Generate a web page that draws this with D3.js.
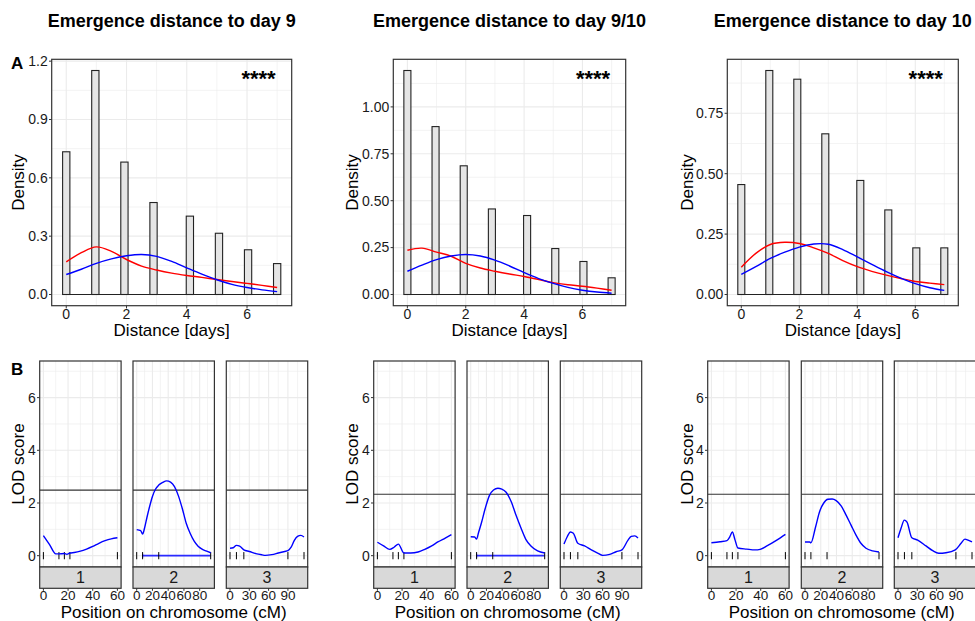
<!DOCTYPE html>
<html>
<head>
<meta charset="utf-8">
<script src="https://cdn.jsdelivr.net/npm/d3@7"></script>
<style>
  body { margin: 0; background: #fff; }
  svg { display: block; font-family: "Liberation Sans", Arial, sans-serif; }
</style>
</head>
<body>
<svg id="fig" width="975" height="621"></svg>
<script>
// ---------------- data: emergence distance histograms ----------------
const titles = ["Emergence distance to day 9", "Emergence distance to day 9/10", "Emergence distance to day 10"];
const days = [0, 1, 2, 3, 4, 5, 6, 7];
const densityDay9   = [0.734, 1.152, 0.681, 0.473, 0.403, 0.315, 0.230, 0.159];
const densityDay910 = [1.194, 0.895, 0.686, 0.456, 0.421, 0.245, 0.176, 0.089];
const densityDay10  = [0.455, 0.927, 0.891, 0.665, 0.472, 0.350, 0.193, 0.193];

// smoothed density curves sampled every half day
const curveX = [0, 0.5, 1, 1.5, 2, 2.5, 3, 3.5, 4, 4.5, 5, 5.5, 6, 6.5, 7];
const redDay9    = [0.168, 0.215, 0.245, 0.222, 0.180, 0.146, 0.126, 0.110, 0.098, 0.088, 0.077, 0.067, 0.057, 0.047, 0.036];
const blueDay9   = [0.103, 0.130, 0.160, 0.183, 0.199, 0.206, 0.196, 0.170, 0.137, 0.105, 0.076, 0.052, 0.036, 0.024, 0.015];
const redDay910  = [0.236, 0.247, 0.226, 0.204, 0.166, 0.141, 0.124, 0.109, 0.096, 0.080, 0.063, 0.052, 0.044, 0.034, 0.023];
const blueDay910 = [0.124, 0.157, 0.186, 0.205, 0.213, 0.205, 0.183, 0.152, 0.117, 0.085, 0.059, 0.038, 0.023, 0.013, 0.007];
const redDay10   = [0.113, 0.170, 0.207, 0.216, 0.211, 0.193, 0.170, 0.140, 0.115, 0.096, 0.080, 0.066, 0.054, 0.047, 0.041];
const blueDay10  = [0.083, 0.115, 0.149, 0.175, 0.196, 0.209, 0.208, 0.186, 0.156, 0.125, 0.095, 0.068, 0.045, 0.028, 0.017];

const xTicksDays = [0, 2, 4, 6];
const yTicksDay9 = [0, 0.3, 0.6, 0.9, 1.2];
const yLabelsDay9 = ["0.0", "0.3", "0.6", "0.9", "1.2"];
const yTicksDay910 = [0, 0.25, 0.5, 0.75, 1.0];
const yLabelsDay910 = ["0.00", "0.25", "0.50", "0.75", "1.00"];
const yTicksDay10 = [0, 0.25, 0.5, 0.75];
const yLabelsDay10 = ["0.00", "0.25", "0.50", "0.75"];
const signifLabel = "****";

// ---------------- data: QTL scans ----------------
const chromosomes = ["1", "2", "3"];
const chrLength = [60, 94, 115];
const markersChr1 = [0, 12.6, 17, 21.5, 60];
const markersChr2 = [0, 7.5, 28, 94];
const markersChr3 = [0, 10, 21.5, 90, 115];
const chrTicks1 = [0, 20, 40, 60];
const chrTicks2 = [0, 20, 40, 60, 80];
const chrTicks3 = [0, 30, 60, 90];
const lodTicks = [0, 2, 4, 6];

const posD9c1 = [0, 5, 10, 12.6, 17, 19, 21.5, 25, 30, 35, 40, 45, 50, 55, 60];
const lodD9c1 = [0.76, 0.42, 0.07, 0.07, 0.08, 0.05, 0.10, 0.12, 0.17, 0.25, 0.35, 0.47, 0.57, 0.64, 0.68];
const posD9c2 = [0, 5, 7.5, 10, 13, 16, 20, 24, 28, 33, 38, 43, 48, 53, 58, 63, 68, 73, 78, 83, 88, 94];
const lodD9c2 = [0.99, 0.95, 0.82, 1.05, 1.45, 1.82, 2.25, 2.53, 2.68, 2.78, 2.84, 2.79, 2.62, 2.27, 1.78, 1.22, 0.84, 0.55, 0.36, 0.25, 0.18, 0.11];
const posD9c3 = [0, 5, 10, 15, 21.5, 30, 40, 50, 55, 65, 75, 85, 90, 95, 100, 105, 110, 115];
const lodD9c3 = [0.28, 0.30, 0.39, 0.36, 0.22, 0.16, 0.08, 0.03, 0.01, 0.04, 0.10, 0.16, 0.19, 0.32, 0.58, 0.73, 0.77, 0.71];

const posD910c1 = [0, 5, 10, 13.5, 17, 21.5, 27, 33, 38, 44, 49, 55, 60];
const lodD910c1 = [0.51, 0.37, 0.24, 0.32, 0.44, 0.10, 0.10, 0.14, 0.23, 0.37, 0.52, 0.67, 0.80];
const posD910c2 = [0, 5, 7.5, 10, 13.5, 18.5, 24, 29, 34.5, 39.5, 45, 51.5, 57.5, 64, 70, 76.5, 85, 94];
const lodD910c2 = [0.72, 0.71, 0.63, 0.88, 1.23, 1.80, 2.30, 2.49, 2.56, 2.53, 2.41, 2.05, 1.54, 1.04, 0.62, 0.37, 0.18, 0.10];
const posD910c3 = [0, 5, 10, 14.5, 21.5, 32, 42.5, 53, 60, 71, 81, 90, 99.5, 104.5, 110, 115];
const lodD910c3 = [0.44, 0.72, 0.90, 0.85, 0.47, 0.37, 0.22, 0.09, 0.01, 0.05, 0.15, 0.22, 0.59, 0.73, 0.75, 0.67];

const posD10c1 = [0, 7, 12.6, 15, 17, 19.2, 21.5, 28.6, 35.4, 39.5, 45, 53, 60];
const lodD10c1 = [0.49, 0.53, 0.57, 0.72, 0.90, 0.59, 0.29, 0.25, 0.22, 0.24, 0.37, 0.59, 0.81];
const posD10c2 = [0, 5.9, 7.5, 13.5, 18.5, 23.6, 29, 34.5, 39.6, 45.9, 52.2, 58.5, 64.8, 71, 77.5, 85.9, 94];
const lodD10c2 = [0.52, 0.52, 0.49, 1.10, 1.67, 1.99, 2.14, 2.15, 2.09, 1.89, 1.54, 1.16, 0.78, 0.47, 0.28, 0.18, 0.14];
const posD10c3 = [0, 4.7, 9.8, 14, 21.5, 30.6, 43.5, 53.9, 63.2, 74.6, 89, 98, 104, 109, 115];
const lodD10c3 = [0.68, 1.04, 1.35, 1.27, 0.68, 0.59, 0.37, 0.19, 0.09, 0.11, 0.22, 0.47, 0.63, 0.59, 0.52];

const lodThresholds = [2.49, 2.33, 2.33];
// support interval on chromosome 2 (start, end in cM); none for day 10
const chr2Interval = [[7.5, 94], [7.5, 94], null];

// ---------------- layout ----------------
const svg = d3.select("#fig");
const GRID = "#EBEBEB", FRAME = "#333333", TXT = "#1a1a1a";
const topY = [59.3, 305.7];
const topX = [[51.7, 291.7], [393.3, 625.7], [727.3, 958.3]];
const facetLeft = [[39.7, 133, 226.3], [373.7, 467, 560.3], [707.7, 801.3, 894.3]];
const facetW = 81.4;
const botY = [361, 567];
const stripH = 21.3;
const axisTitleX = [18.5, 351.7, 686.7];
const TICK_FS = 14;

const densities = [densityDay9, densityDay910, densityDay10];
const reds = [redDay9, redDay910, redDay10];
const blues = [blueDay9, blueDay910, blueDay10];
const yTicks = [yTicksDay9, yTicksDay910, yTicksDay10];
const yLabels = [yLabelsDay9, yLabelsDay910, yLabelsDay10];
const lodPos = [[posD9c1, posD9c2, posD9c3], [posD910c1, posD910c2, posD910c3], [posD10c1, posD10c2, posD10c3]];
const lodVal = [[lodD9c1, lodD9c2, lodD9c3], [lodD910c1, lodD910c2, lodD910c3], [lodD10c1, lodD10c2, lodD10c3]];
const markers = [markersChr1, markersChr2, markersChr3];
const chrTicks = [chrTicks1, chrTicks2, chrTicks3];

// histogram with 30 bins over [0, 7] (ggplot default binning)
const bw = 7 / 29;

function hline(g, x1, x2, y, color, w) {
  g.append("line").attr("x1", x1).attr("x2", x2).attr("y1", y).attr("y2", y)
    .attr("stroke", color).attr("stroke-width", w);
}
function vline(g, x, y1, y2, color, w) {
  g.append("line").attr("x1", x).attr("x2", x).attr("y1", y1).attr("y2", y2)
    .attr("stroke", color).attr("stroke-width", w);
}

// panel labels
svg.append("text").attr("x", 11).attr("y", 69).attr("font-size", 17).attr("font-weight", "bold").text("A");
svg.append("text").attr("x", 11).attr("y", 375).attr("font-size", 17).attr("font-weight", "bold").text("B");

for (let c = 0; c < 3; c++) {
  // ---------- histogram panel ----------
  const [x0, x1] = topX[c];
  const maxD = d3.max(densities[c]);
  const x = d3.scaleLinear().domain([-bw / 2 - 0.05 * (7 + bw), 7 + bw / 2 + 0.05 * (7 + bw)]).range([x0, x1]);
  const y = d3.scaleLinear().domain([-0.05 * maxD, 1.05 * maxD]).range([topY[1], topY[0]]);
  const g = svg.append("g");

  svg.append("text").attr("x", (x0 + x1) / 2).attr("y", 27).attr("text-anchor", "middle")
    .attr("font-size", 18).attr("font-weight", "bold").attr("fill", "#000").text(titles[c]);

  // grid
  const yt = yTicks[c];
  const step = yt[1] - yt[0];
  d3.range(yt.length).map(i => yt[i] + step / 2).filter(v => y(v) > topY[0])
    .forEach(v => hline(g, x0, x1, y(v), GRID, 0.6));
  [1, 3, 5, 7].forEach(v => vline(g, x(v), topY[0], topY[1], GRID, 0.6));
  yt.forEach(v => hline(g, x0, x1, y(v), GRID, 1.1));
  xTicksDays.forEach(v => vline(g, x(v), topY[0], topY[1], GRID, 1.1));

  // empty bins along the baseline
  hline(g, x(-bw / 2), x(7 + bw / 2), y(0), "#222", 1);
  // bars
  g.selectAll("rect.bar").data(days.map((d, i) => ({ d, v: densities[c][i] })))
    .join("rect").attr("class", "bar")
    .attr("x", p => x(Math.round(p.d / bw) * bw - bw / 2))
    .attr("width", p => x(bw) - x(0))
    .attr("y", p => y(p.v))
    .attr("height", p => y(0) - y(p.v))
    .attr("fill", "#E5E5E5").attr("stroke", "#222").attr("stroke-width", 1.1);

  // smoothed densities
  const line = d3.line().x(p => x(p[0])).y(p => y(p[1])).curve(d3.curveCatmullRom.alpha(0.5));
  g.append("path").attr("d", line(curveX.map((v, i) => [v, reds[c][i]])))
    .attr("fill", "none").attr("stroke", "#FF0000").attr("stroke-width", 1.4);
  g.append("path").attr("d", line(curveX.map((v, i) => [v, blues[c][i]])))
    .attr("fill", "none").attr("stroke", "#0000FF").attr("stroke-width", 1.4);

  // frame
  g.append("rect").attr("x", x0).attr("y", topY[0]).attr("width", x1 - x0).attr("height", topY[1] - topY[0])
    .attr("fill", "none").attr("stroke", FRAME).attr("stroke-width", 1.2);

  // significance
  g.append("text").attr("x", x(6.95)).attr("y", 86).attr("text-anchor", "end")
    .attr("font-size", 22).attr("font-weight", "bold").text(signifLabel);

  // axes
  yt.forEach((v, i) => {
    hline(g, x0 - 2.7, x0, y(v), FRAME, 1);
    g.append("text").attr("x", x0 - 4).attr("y", y(v)).attr("dy", "0.35em").attr("text-anchor", "end")
      .attr("font-size", TICK_FS).attr("fill", TXT).text(yLabels[c][i]);
  });
  xTicksDays.forEach(v => {
    vline(g, x(v), topY[1], topY[1] + 2.7, FRAME, 1);
    g.append("text").attr("x", x(v)).attr("y", 318.5).attr("text-anchor", "middle")
      .attr("font-size", TICK_FS).attr("fill", TXT).text(v);
  });
  g.append("text").attr("x", (x0 + x1) / 2).attr("y", 336).attr("text-anchor", "middle")
    .attr("font-size", 17).attr("fill", "#000").text("Distance [days]");
  g.append("text").attr("transform", `translate(${axisTitleX[c]},${(topY[0] + topY[1]) / 2}) rotate(-90)`)
    .attr("text-anchor", "middle").attr("dy", "0.35em")
    .attr("font-size", 17).attr("fill", "#000").text("Density");

  // ---------- LOD facets ----------
  const ly = d3.scaleLinear().domain([-0.43, 7.39]).range([botY[1], botY[0]]);
  for (let k = 0; k < 3; k++) {
    const fx = facetLeft[c][k];
    const L = chrLength[k];
    const lx = d3.scaleLinear().domain([-0.05 * L, 1.05 * L]).range([fx, fx + facetW]);
    const f = svg.append("g");
    const ct = chrTicks[k];
    const cstep = ct[1] - ct[0];
    // grid
    [1, 3, 5, 7].forEach(v => hline(f, fx, fx + facetW, ly(v), GRID, 0.6));
    ct.map(v => v + cstep / 2).filter(v => lx(v) < fx + facetW)
      .forEach(v => vline(f, lx(v), botY[0], botY[1], GRID, 0.6));
    lodTicks.forEach(v => hline(f, fx, fx + facetW, ly(v), GRID, 1.1));
    ct.forEach(v => vline(f, lx(v), botY[0], botY[1], GRID, 1.1));

    // threshold
    hline(f, fx, fx + facetW, ly(lodThresholds[c]), "#333", 1.1);

    // support interval on chromosome 2
    if (k === 1 && chr2Interval[c]) {
      const [a, b] = chr2Interval[c];
      hline(f, lx(a), lx(b), ly(0), "#2a2aff", 1.6);
      vline(f, lx(a), ly(0) - 2, ly(0) + 2, "#2a2aff", 1.2);
    }
    // markers
    markers[k].forEach(m => vline(f, lx(m), ly(0) - 3.6, ly(0) + 3.6, "#000", 1));

    // LOD curve
    const lline = d3.line().x(p => lx(p[0])).y(p => ly(p[1])).curve(d3.curveMonotoneX);
    f.append("path").attr("d", lline(lodPos[c][k].map((v, i) => [v, lodVal[c][k][i]])))
      .attr("fill", "none").attr("stroke", "#0000FF").attr("stroke-width", 1.4);

    // frame and strip
    f.append("rect").attr("x", fx).attr("y", botY[0]).attr("width", facetW).attr("height", botY[1] - botY[0])
      .attr("fill", "none").attr("stroke", FRAME).attr("stroke-width", 1.2);
    f.append("rect").attr("x", fx).attr("y", botY[1]).attr("width", facetW).attr("height", stripH)
      .attr("fill", "#D9D9D9").attr("stroke", FRAME).attr("stroke-width", 1.2);
    f.append("text").attr("x", fx + facetW / 2).attr("y", botY[1] + stripH / 2).attr("dy", "0.36em")
      .attr("text-anchor", "middle").attr("font-size", 16).attr("fill", TXT).text(chromosomes[k]);

    // x axis
    ct.forEach(v => {
      vline(f, lx(v), botY[1] + stripH, botY[1] + stripH + 2.5, FRAME, 1);
      f.append("text").attr("x", lx(v)).attr("y", 599.5).attr("text-anchor", "middle")
        .attr("font-size", 13.5).attr("fill", TXT).text(v);
    });
    if (k === 0) {
      lodTicks.forEach(v => {
        hline(f, fx - 2.7, fx, ly(v), FRAME, 1);
        f.append("text").attr("x", fx - 4).attr("y", ly(v)).attr("dy", "0.35em").attr("text-anchor", "end")
          .attr("font-size", TICK_FS).attr("fill", TXT).text(v);
      });
    }
  }
  const gx0 = facetLeft[c][0], gx1 = facetLeft[c][2] + facetW;
  svg.append("text").attr("x", (gx0 + gx1) / 2).attr("y", 617.5).attr("text-anchor", "middle")
    .attr("font-size", 17).attr("fill", "#000").text("Position on chromosome (cM)");
  svg.append("text").attr("transform", `translate(${axisTitleX[c]},${(botY[0] + botY[1]) / 2}) rotate(-90)`)
    .attr("text-anchor", "middle").attr("dy", "0.35em")
    .attr("font-size", 17).attr("fill", "#000").text("LOD score");
}
</script>
</body>
</html>
